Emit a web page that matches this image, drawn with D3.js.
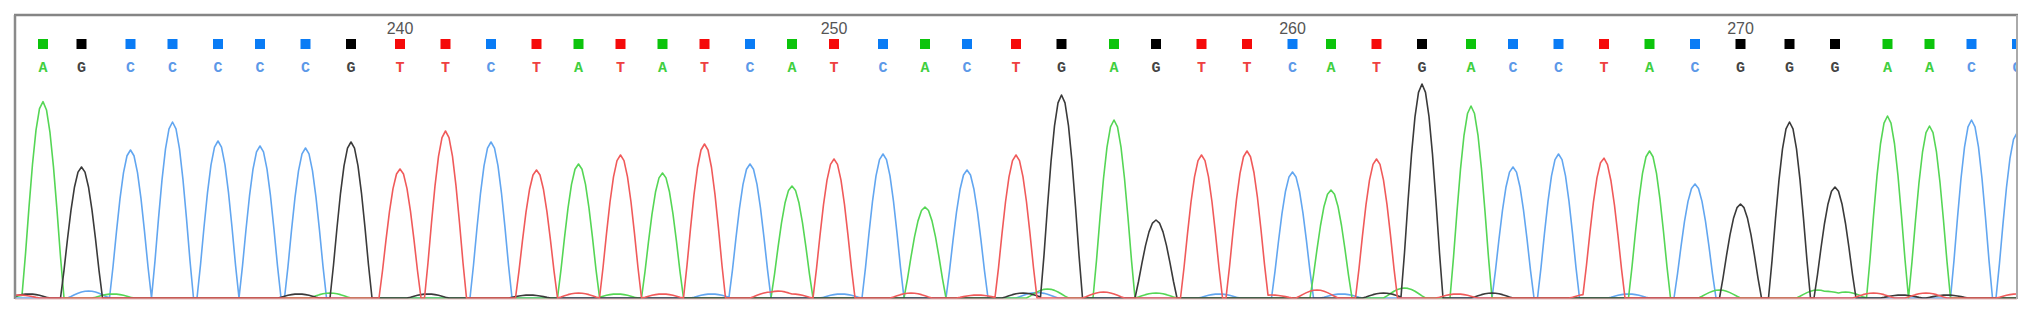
<!DOCTYPE html>
<html>
<head>
<meta charset="utf-8">
<script src="https://cdn.jsdelivr.net/npm/d3@7"></script>
<style>
  body { margin: 0; background: #fff; }
  svg { display: block; }
</style>
</head>
<body>
<div id="chart"></div>
<script>
// base calls, first one is base 232
const firstBaseNumber = 232;
const baseCalls = ["A","G","C","C","C","C","C","G","T","T",
                   "C","T","A","T","A","T","C","A","T","C",
                   "A","C","T","G","A","G","T","T","C","A",
                   "T","G","A","C","C","T","A","C","G","G",
                   "G","A","A","C","C"];
// peak position of each call (scan number)
const peakScans = [2798, 2809, 2823, 2835, 2848, 2860, 2873, 2886, 2900, 2913,
                   2926, 2939, 2951, 2963, 2975, 2987, 3000, 3012, 3024, 3038,
                   3050, 3062, 3076, 3089, 3104, 3116, 3129, 3142, 3155, 3166,
                   3179, 3192, 3206, 3218, 3231, 3244, 3257, 3270, 3283, 3297,
                   3310, 3325, 3337, 3349, 3362];
// peak signal of each call
const peakHeights = [1950, 1310, 1480, 1760, 1570, 1520, 1500, 1560, 1290, 1670,
                     1560, 1280, 1340, 1430, 1250, 1540, 1340, 1120, 1390, 1440,
                     910, 1280, 1430, 2030, 1780, 780, 1430, 1470, 1260, 1080,
                     1390, 2140, 1920, 1310, 1440, 1380, 1470, 1140, 940, 1760,
                     1110, 1820, 1720, 1780, 1650];
// small background bumps per channel: [scan, signal]
const minorA = [[2794, 30], [2818, 40], [2880, 50], [2962, 40], [3085, 90], [3116, 50],
                [3187, 100], [3277, 80], [3305, 80], [3313, 60]];
const minorC = [[2811, 70], [2989, 40], [3026, 40], [3082, 55], [3134, 40], [3169, 40],
                [3251, 40]];
const minorG = [[2794, 40], [2871, 40], [2908, 40], [2937, 30], [3078, 50], [3181, 50],
                [3212, 50], [3329, 30], [3342, 30]];
const minorT = [[2791, 30], [2951, 50], [2975, 40], [3006, 60], [3012, 40], [3046, 50],
                [3065, 30], [3101, 60], [3149, 30], [3162, 80], [3202, 40], [3240, 40],
                [3321, 50], [3336, 50], [3362, 40]];
const tickNumbers = [240, 250, 260, 270];

const channels = ["C", "A", "G", "T"];
const minors = { A: minorA, C: minorC, G: minorG, T: minorT };
const traceColor = { A: "#55d655", C: "#62a6f0", G: "#3a3a3a", T: "#f05a5a" };
const boxColor   = { A: "#0cc40c", C: "#0a7cf5", G: "#000000", T: "#f50a0a" };
const textColor  = { A: "#3fcf3f", C: "#5c98e8", G: "#444444", T: "#ee4040" };

const W = 2031, H = 313;
const frame = { left: 15, right: 2017, top: 15, base: 298 };

const svg = d3.select("#chart").append("svg")
    .attr("width", W)
    .attr("height", H);

let x = d3.scaleLinear()
    .domain([2790, 3362])
    .range([frame.left, frame.right]);

let y = d3.scaleLinear()
    .domain([0, 2400])
    .range([frame.base, frame.base - 240]);

svg.append("clipPath").attr("id", "box")
  .append("rect")
    .attr("x", frame.left).attr("y", frame.top)
    .attr("width", frame.right - frame.left).attr("height", frame.base - frame.top + 2);

// peak shape: rounded top, near straight flanks down to the baseline
const halfWidth = 6.0;
function shape(d) {
    if (Math.abs(d) >= halfWidth) return 0;
    return Math.pow(Math.cos(Math.PI * d / (2 * halfWidth)), 1.15);
}

let scans = d3.range(2786, 3368, 1);
let traces = channels.map(ch => {
    let peaks = [];
    baseCalls.forEach((b, i) => { if (b === ch) peaks.push([peakScans[i], peakHeights[i]]); });
    minors[ch].forEach(m => peaks.push(m));
    let pts = scans.map(s => {
        let v = 0;
        peaks.forEach(p => { v += p[1] * shape(s - p[0]); });
        return [s, v];
    });
    return { ch: ch, pts: pts };
});

let line = d3.line()
    .x(d => x(d[0]))
    .y(d => y(d[1]));

svg.append("g")
    .attr("clip-path", "url(#box)")
  .selectAll("path")
  .data(traces)
  .join("path")
    .attr("d", d => line(d.pts))
    .attr("fill", "none")
    .attr("stroke", d => traceColor[d.ch])
    .attr("stroke-width", 1.6)
    .attr("stroke-linejoin", "round");

// base call squares and letters
let calls = svg.append("g").attr("clip-path", "url(#box)");
calls.selectAll("rect")
  .data(baseCalls)
  .join("rect")
    .attr("x", (d, i) => x(peakScans[i]) - 5)
    .attr("y", 39)
    .attr("width", 10)
    .attr("height", 10)
    .attr("fill", d => boxColor[d]);

calls.selectAll("text")
  .data(baseCalls)
  .join("text")
    .attr("x", (d, i) => x(peakScans[i]))
    .attr("y", 72)
    .attr("text-anchor", "middle")
    .attr("font-family", "Liberation Mono, DejaVu Sans Mono, monospace")
    .attr("font-weight", "bold")
    .attr("font-size", 15)
    .attr("fill", d => textColor[d])
    .text(d => d);

// position numbers
svg.append("g")
  .selectAll("text")
  .data(tickNumbers)
  .join("text")
    .attr("x", d => x(peakScans[d - firstBaseNumber]))
    .attr("y", 34)
    .attr("text-anchor", "middle")
    .attr("font-family", "Liberation Sans, Arial, sans-serif")
    .attr("font-size", 16)
    .attr("fill", "#555")
    .text(d => d);

// frame
svg.append("line")
    .attr("x1", frame.left - 1).attr("x2", frame.right + 1)
    .attr("y1", frame.top).attr("y2", frame.top)
    .attr("stroke", "#858585").attr("stroke-width", 2.5);
svg.append("line")
    .attr("x1", frame.left).attr("x2", frame.left)
    .attr("y1", frame.top).attr("y2", frame.base + 1)
    .attr("stroke", "#8a8a8a").attr("stroke-width", 2.5);
svg.append("line")
    .attr("x1", frame.right).attr("x2", frame.right)
    .attr("y1", frame.top).attr("y2", frame.base + 1)
    .attr("stroke", "#aaaaaa").attr("stroke-width", 2);
svg.append("line")
    .attr("x1", frame.left).attr("x2", frame.right)
    .attr("y1", frame.base + 1).attr("y2", frame.base + 1)
    .attr("stroke", "#e2b8b8").attr("stroke-width", 1);
</script>
</body>
</html>
